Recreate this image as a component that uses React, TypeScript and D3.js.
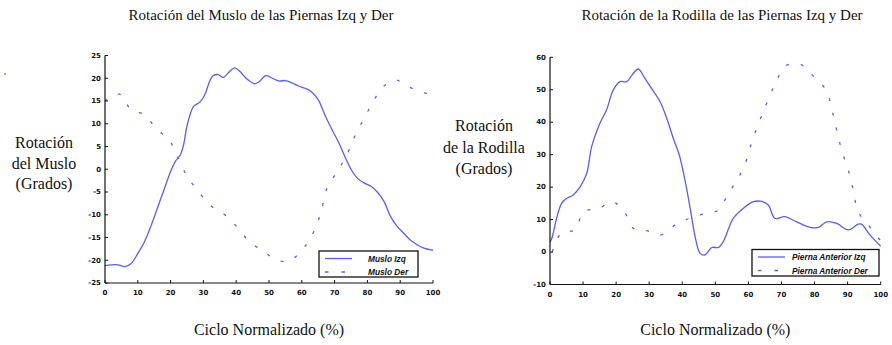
import * as d3 from "d3";

// Rotación del muslo (grados) vs ciclo normalizado (%)
const musloIzqX = [0, 2, 4, 6, 8, 10, 12, 14, 16, 18, 20, 21.5, 23, 24, 25, 27, 29, 30.5, 32, 33, 34.5, 36, 38, 39.5, 41, 43, 45.5, 47, 49, 51, 53, 55, 57, 59, 61, 63, 65, 67, 69, 71.5, 73, 75, 77, 79, 81, 83, 85, 87, 89, 91, 93, 95, 97, 100];
const musloIzq = [-21.2, -21, -21, -21.4, -20.7, -18.5, -16, -12.5, -8.5, -4.5, -0.5, 1.8, 3.2, 5.5, 9.5, 13.8, 14.8, 16.5, 19.5, 20.6, 20.8, 20.2, 21.5, 22.3, 21.6, 20, 18.8, 19.2, 20.6, 20, 19.4, 19.5, 19, 18.3, 17.8, 17, 15.3, 12, 9, 5.5, 3, 0, -2, -3, -3.7, -5, -7, -10.3, -12.5, -14, -15.5, -16.5, -17.3, -17.8];
const musloDerX = [0, 3, 5, 8, 12, 15.5, 19.5, 22, 25, 28.5, 32, 36, 40, 44, 48, 52, 55, 57, 61, 64, 66, 67.5, 70.5, 73.5, 76, 78.7, 81.5, 84.6, 88.6, 92.4, 97, 99];
const musloDer = [15, 16.5, 16.3, 13, 12, 9, 6.5, 3, -1.5, -4.9, -7.9, -9.7, -12.5, -15.9, -17.9, -19.8, -20.3, -19.9, -16.9, -13.2, -9, -4.5, -0.8, 2.8, 7, 10.8, 14.5, 18, 19.6, 18.2, 16.8, 16.6];

// Rotación de la rodilla (grados)
const rodillaIzqX = [0, 0.7, 2, 3.5, 5, 7, 9.1, 11.1, 12.6, 15.1, 17.1, 19.1, 21.2, 23.2, 25.2, 26.7, 28.7, 30.7, 33.3, 35.3, 37.3, 39.1, 40.8, 42.3, 44.1, 45.4, 46.9, 48.9, 50.9, 52.4, 55.4, 58.5, 61.5, 64, 66, 68, 71.1, 74.6, 78.6, 81.1, 83.7, 86.7, 90.2, 93.2, 94.2, 96.8, 100];
const rodillaIzq = [3, 4.7, 10.4, 15, 16.5, 17.6, 20.1, 24.2, 32.5, 39.7, 43.8, 49.9, 52.5, 52.5, 55.1, 56.4, 53.5, 50.4, 46.3, 41.2, 35, 29.9, 22.2, 14, 3.7, -0.4, -0.9, 1.4, 1.4, 3.2, 10.4, 13.5, 15.5, 15.6, 14.5, 10.4, 10.9, 9.3, 7.6, 7.6, 9.3, 8.8, 6.8, 8.6, 8.6, 5.2, 1.8];
const rodillaDerX = [0.7, 3.5, 7.6, 10.1, 14.8, 18.7, 22.2, 25.2, 29.2, 33.3, 37.3, 41.3, 46.2, 50.9, 53.9, 56.9, 59.5, 61.2, 63.5, 65.7, 68.3, 71.1, 75.6, 79.6, 83.5, 85.2, 86.7, 88.2, 90.2, 91.7, 93.2, 96.3, 99.8];
const rodillaDer = [0.1, 6, 6.8, 12.4, 13.4, 15.5, 12.9, 7.3, 6.6, 5.2, 8, 10.1, 11.7, 12.9, 18.1, 22.7, 28.6, 34.5, 40.7, 46.3, 52.2, 57.3, 57.9, 54.2, 49.9, 44, 37.6, 31.4, 25.3, 19.1, 12.4, 8.3, 3.7];

const xTicks = d3.range(0, 101, 10);
const musloTicks = d3.range(-25, 26, 5);
const rodillaTicks = d3.range(-10, 61, 10);

const BLUE = "#5a5cff";
const INK = "#111";
const SERIF = '"Liberation Serif"';
const TICKFONT = '"DejaVu Sans"';
const LEGFONT = '"Liberation Sans"';

type Panel = {
  title: string;
  titleX: number;
  yLabel: string[];
  yLabelX: number;
  yLabelY: number[];
  left: number;
  right: number;
  top: number;
  bottom: number;
  yDomain: [number, number];
  yTicks: number[];
  solid: { x: number[]; y: number[] };
  dashed: { x: number[]; y: number[] };
  legend: string[];
  legendBox: [number, number, number, number];
  legendTextDx: number;
};

const panels: Panel[] = [
  {
    title: "Rotación del Muslo de las Piernas Izq y Der",
    titleX: 261,
    yLabel: ["Rotación", "del Muslo", "(Grados)"],
    yLabelX: 44,
    yLabelY: [148, 169, 189],
    left: 105,
    right: 433,
    top: 55.5,
    bottom: 283,
    yDomain: [-25, 25],
    yTicks: musloTicks,
    solid: { x: musloIzqX, y: musloIzq },
    dashed: { x: musloDerX, y: musloDer },
    legend: ["Muslo Izq", "Muslo Der"],
    legendBox: [319, 251, 99, 26],
    legendTextDx: 49,
  },
  {
    title: "Rotación de la Rodilla de las Piernas Izq y Der",
    titleX: 722,
    yLabel: ["Rotación", "de la Rodilla", "(Grados)"],
    yLabelX: 484,
    yLabelY: [131, 153, 174],
    left: 550,
    right: 880.7,
    top: 57.3,
    bottom: 284.5,
    yDomain: [-10, 60],
    yTicks: rodillaTicks,
    solid: { x: rodillaIzqX, y: rodillaIzq },
    dashed: { x: rodillaDerX, y: rodillaDer },
    legend: ["Pierna Anterior Izq", "Pierna Anterior Der"],
    legendBox: [752, 249.5, 127, 26.5],
    legendTextDx: 40,
  },
];

const ChartPanel = ({ p }: { p: Panel }) => {
  const x = d3.scaleLinear().domain([0, 100]).range([p.left, p.right]);
  const y = d3.scaleLinear().domain(p.yDomain).range([p.bottom, p.top]);
  const line = d3
    .line<[number, number]>()
    .x(d => x(d[0]))
    .y(d => y(d[1]))
    .curve(d3.curveCatmullRom);
  const solidD = line(d3.zip(p.solid.x, p.solid.y) as [number, number][]) || "";
  const dashedD = line(d3.zip(p.dashed.x, p.dashed.y) as [number, number][]) || "";
  const [bx, by, bw, bh] = p.legendBox;

  return (
    <g>
      <text x={p.titleX} y={20} textAnchor="middle" fontSize={15} fill={INK} style={{ fontFamily: SERIF }}>
        {p.title}
      </text>
      {p.yLabel.map((t, i) => (
        <text key={t} x={p.yLabelX} y={p.yLabelY[i]} textAnchor="middle" fontSize={16} fill={INK} style={{ fontFamily: SERIF }}>
          {t}
        </text>
      ))}
      <text x={(p.left + p.right) / 2} y={335} textAnchor="middle" fontSize={16} fill={INK} style={{ fontFamily: SERIF }}>
        Ciclo Normalizado (%)
      </text>

      <path d={solidD} fill="none" stroke={BLUE} strokeWidth={1.3} />
      <path d={dashedD} fill="none" stroke={BLUE} strokeWidth={1.3} strokeDasharray="3,12" />

      {/* axes, ticks pointing inward */}
      <line x1={p.left} x2={p.right} y1={p.bottom} y2={p.bottom} stroke={INK} strokeWidth={1.2} />
      <line x1={p.left} x2={p.left} y1={p.top} y2={p.bottom} stroke={INK} strokeWidth={1.2} />
      {xTicks.map(t => (
        <g key={`x${t}`} transform={`translate(${x(t)},${p.bottom})`}>
          <line y2={-3} stroke={INK} />
          <text y={12} textAnchor="middle" fontSize={7} fontWeight="bold" fill={INK} style={{ fontFamily: TICKFONT }}>
            {t}
          </text>
        </g>
      ))}
      {p.yTicks.map(t => (
        <g key={`y${t}`} transform={`translate(${p.left},${y(t)})`}>
          <line x2={3} stroke={INK} />
          <text x={-4} dy="0.32em" textAnchor="end" fontSize={7} fontWeight="bold" fill={INK} style={{ fontFamily: TICKFONT }}>
            {t}
          </text>
        </g>
      ))}

      {/* legend */}
      <rect x={bx} y={by} width={bw} height={bh} fill="white" stroke={INK} strokeWidth={1.3} />
      {p.legend.map((t, i) => {
        const ry = by + 7.5 + i * 13.5;
        return (
          <g key={t}>
            <line
              x1={bx + 6}
              x2={bx + 33}
              y1={ry}
              y2={ry}
              stroke={BLUE}
              strokeWidth={1.3}
              strokeDasharray={i === 0 ? undefined : "3.5,13"}
            />
            <text x={bx + p.legendTextDx} y={ry + 3} fontSize={8.3} fontWeight="bold" fontStyle="italic" fill={INK} style={{ fontFamily: LEGFONT }}>
              {t}
            </text>
          </g>
        );
      })}
    </g>
  );
};

const App = () => (
  <svg width={892} height={345} viewBox="0 0 892 345" style={{ position: "absolute", left: 0, top: 0, background: "white" }}>
    <text x={4} y={80} fontSize={10} fill={INK} style={{ fontFamily: SERIF }}>
      '
    </text>
    {panels.map(p => (
      <ChartPanel key={p.title} p={p} />
    ))}
  </svg>
);

export default App;
